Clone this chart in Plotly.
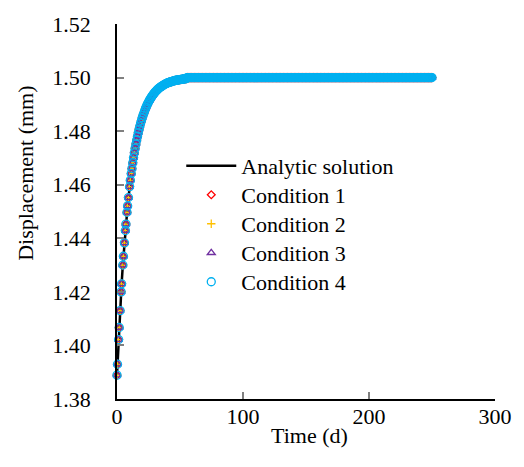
import plotly.graph_objects as go

# ---- data ----
# early, individually visible markers (time in days, displacement in mm)
early_t = [0.0, 0.38, 1.28, 1.75, 2.45, 3.28, 3.67, 4.62, 5.1, 5.9, 6.66, 7.09,
           7.92, 8.42, 9.08, 10.0, 10.6, 11.3]
early_u = [1.3889, 1.3930, 1.4022, 1.4067, 1.4130, 1.4200, 1.4230, 1.4300,
           1.4333, 1.4383, 1.4429, 1.4453, 1.4497, 1.4521, 1.4552, 1.4593,
           1.4617, 1.4642]
# dense rising part, sampled every 0.625 d starting at 11.875 d
mid_t0 = 11.875
mid_dt = 0.625
mid_u = [1.4661, 1.4682, 1.4701, 1.4719, 1.4736, 1.4752, 1.4767, 1.4781,
         1.4794, 1.4807, 1.4819, 1.4830, 1.4840, 1.4850, 1.4859, 1.4867,
         1.4875, 1.4883, 1.4890, 1.4897, 1.4903, 1.4909, 1.4914, 1.4920,
         1.4924, 1.4929, 1.4933, 1.4937, 1.4941, 1.4945, 1.4948, 1.4951,
         1.4954, 1.4957, 1.4960, 1.4962, 1.4964, 1.4966, 1.4968, 1.4970,
         1.4972, 1.4974, 1.4975, 1.4977, 1.4978, 1.4980, 1.4981, 1.4982,
         1.4983, 1.4984, 1.4985, 1.4986, 1.4987, 1.4988, 1.4988, 1.4989,
         1.4990, 1.4990, 1.4991, 1.4991, 1.4992, 1.4992, 1.4993, 1.4993,
         1.4994, 1.4994, 1.4995, 1.4995, 1.4996, 1.4996]
# plateau value, up to 250 d
plateau_u_value = 1.500
t_end = 250.0

mid_t = [mid_t0 + mid_dt * i for i in range(len(mid_u))]
n_plat = int(round((t_end - mid_t[-1]) / mid_dt))
plat_t = [mid_t[-1] + mid_dt * (i + 1) for i in range(n_plat)]
plat_u = [plateau_u_value] * n_plat

time_d = early_t + mid_t + plat_t
disp_mm = early_u + mid_u + plat_u

analytic_t = time_d
analytic_u = disp_mm

analytic_name = "Analytic solution"
series_names = ["Condition 1", "Condition 2", "Condition 3", "Condition 4"]
series_colors = ["#FF0000", "#FFC000", "#7030A0", "#00B0F0"]
series_symbols = ["diamond-open", "cross-thin-open", "triangle-up-open", "circle-open"]
series_sizes = [6, 6, 7, 8]

FONT = "Liberation Serif"


def legend_label(s):
    return "<span style='font-size:22px'>" + s + "</span>"


fig = go.Figure()
fig.add_trace(go.Scatter(x=analytic_t, y=analytic_u, mode="lines",
                         name=legend_label(analytic_name),
                         line=dict(color="black", width=2.5),
                         cliponaxis=False))
for name, col, sym, sz in zip(series_names, series_colors, series_symbols, series_sizes):
    fig.add_trace(go.Scatter(x=time_d, y=disp_mm, mode="markers",
                             name=legend_label(name),
                             marker=dict(symbol=sym, size=sz, color=col,
                                         line=dict(color=col, width=1.3)),
                             cliponaxis=False))

axis_common = dict(showgrid=False, zeroline=False, showline=True,
                   linecolor="black", linewidth=1.5, ticks="inside",
                   ticklen=7, tickcolor="#808080", tickwidth=1.5,
                   tickfont=dict(family=FONT, size=22, color="black"))

fig.update_layout(
    width=524, height=467,
    margin=dict(l=117, r=25, t=21, b=68),
    paper_bgcolor="white", plot_bgcolor="white",
    font=dict(family=FONT, size=22, color="black"),
    showlegend=True,
    legend=dict(x=0.17, y=0.674, xanchor="left", yanchor="top",
                bgcolor="rgba(0,0,0,0)", font=dict(family=FONT, size=20),
                itemwidth=50, tracegroupgap=0),
    xaxis=dict(range=[0, 300], dtick=100, tick0=0, ticklabelstandoff=-3,
               **axis_common),
    yaxis=dict(range=[1.38, 1.52], dtick=0.02, tick0=1.38, tickformat=".2f",
               ticklabelstandoff=20, **axis_common),
    annotations=[
        dict(text="Displacement (mm)", xref="paper", yref="paper",
             x=-0.241, y=0.603, xanchor="center", yanchor="middle",
             textangle=-90, showarrow=False,
             font=dict(family=FONT, size=22, color="black")),
        dict(text="Time (d)", xref="paper", yref="paper",
             x=0.510, y=-0.098, xanchor="center", yanchor="middle",
             showarrow=False,
             font=dict(family=FONT, size=22, color="black")),
    ],
)

fig.write_html("out.html")
